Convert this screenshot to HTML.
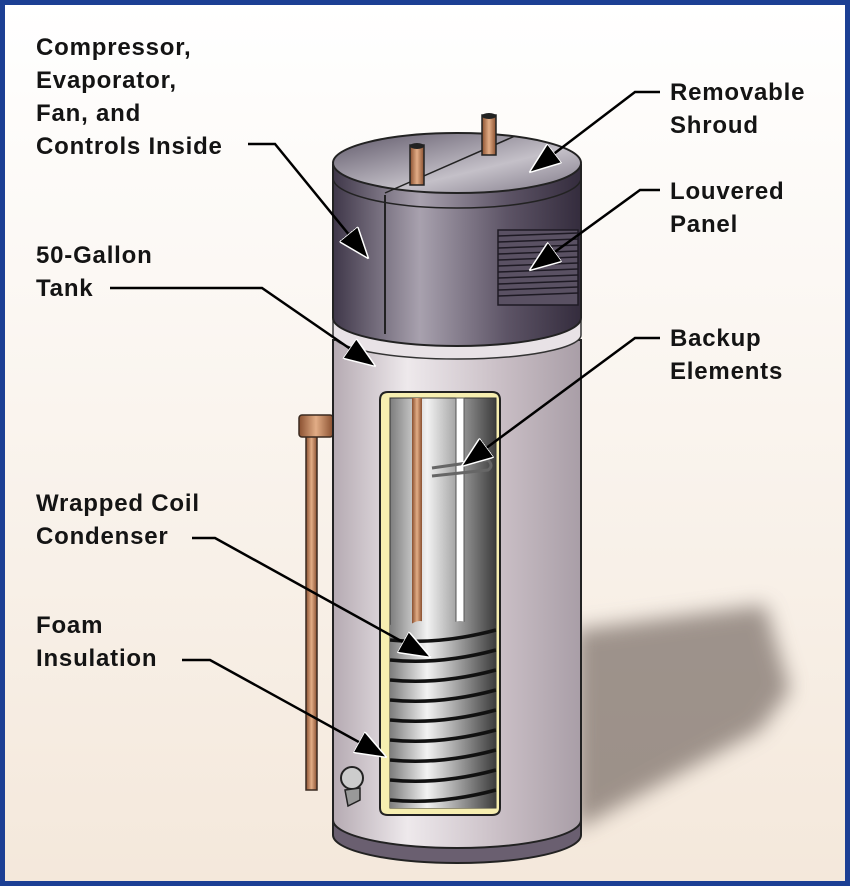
<!DOCTYPE html>
<html><head><meta charset="utf-8"><style>
html,body{margin:0;padding:0}
body{width:850px;height:886px;overflow:hidden}
svg{display:block}
text{font-family:"Liberation Sans",sans-serif;font-weight:bold;font-size:24px;letter-spacing:0.8px;fill:#141414}
</style></head><body>
<svg width="850" height="886" viewBox="0 0 850 886" xmlns="http://www.w3.org/2000/svg">
<defs>
<linearGradient id="bg" x1="0" y1="0" x2="0" y2="1"><stop offset="0" stop-color="#ffffff"/><stop offset="1" stop-color="#f4e8db"/></linearGradient>
<linearGradient id="shroud" x1="0" x2="1"><stop offset="0" stop-color="#3f3749"/><stop offset="0.35" stop-color="#a8a1ae"/><stop offset="0.7" stop-color="#5d5466"/><stop offset="1" stop-color="#342c3d"/></linearGradient>
<linearGradient id="top" x1="0" y1="0" x2="1" y2="1"><stop offset="0" stop-color="#5e5768"/><stop offset="0.6" stop-color="#c4c0c8"/><stop offset="1" stop-color="#7d7685"/></linearGradient>
<linearGradient id="body" x1="0" x2="1"><stop offset="0" stop-color="#b5aab2"/><stop offset="0.3" stop-color="#eee9ec"/><stop offset="0.7" stop-color="#c7bcc3"/><stop offset="1" stop-color="#a99ea7"/></linearGradient>
<linearGradient id="inner" x1="0" x2="1"><stop offset="0" stop-color="#7d7d7d"/><stop offset="0.35" stop-color="#f2f2f2"/><stop offset="1" stop-color="#3c3c3c"/></linearGradient>
<linearGradient id="cu" x1="0" x2="1"><stop offset="0" stop-color="#8a5030"/><stop offset="0.5" stop-color="#e2ad86"/><stop offset="1" stop-color="#8a5030"/></linearGradient>
<filter id="blur"><feGaussianBlur stdDeviation="10"/></filter>
<marker id="a2" markerWidth="32" markerHeight="24" refX="31" refY="12" orient="auto" markerUnits="userSpaceOnUse" viewBox="0 0 32 24"><path d="M0,0 L32,12 L0,24 Z" fill="#000" stroke="#fff" stroke-width="1.5"/></marker>
</defs>
<rect x="0" y="0" width="850" height="886" fill="#1c3f94"/>
<rect x="5" y="5" width="840" height="876" fill="url(#bg)"/>
<polygon points="575,630 765,605 790,690 760,730 575,830" fill="#6e625c" opacity="0.65" filter="url(#blur)"/>
<rect x="306" y="425" width="11" height="365" fill="url(#cu)" stroke="#3a2a20" stroke-width="1.5"/>
<rect x="299" y="415" width="34" height="22" rx="3" fill="url(#cu)" stroke="#3a2a20" stroke-width="1.5"/>
<path d="M333,340 L333,830 A124,28 0 0 0 581,830 L581,340 Z" fill="url(#body)" stroke="#222" stroke-width="2"/>
<path d="M333,820 L333,835 A124,28 0 0 0 581,835 L581,820 A124,28 0 0 1 333,820 Z" fill="#6a5f70" stroke="#222" stroke-width="2"/>
<path d="M333,320 L333,335 A124,24 0 0 0 581,335 L581,320 Z" fill="#e8e2e6" stroke="#333" stroke-width="1.5"/>
<path d="M333,165 L333,318 A124,28 0 0 0 581,318 L581,165 Z" fill="url(#shroud)" stroke="#222" stroke-width="2"/>
<line x1="385" y1="195" x2="385" y2="334" stroke="#222" stroke-width="2"/>
<path d="M333,178 A124,30 0 0 0 581,178" fill="none" stroke="#222" stroke-width="1.5"/>
<ellipse cx="457" cy="163" rx="124" ry="30" fill="url(#top)" stroke="#222" stroke-width="2"/>
<line x1="385" y1="193" x2="515" y2="136" stroke="#222" stroke-width="1.5"/>
<rect x="410" y="145" width="14" height="40" fill="url(#cu)" stroke="#222" stroke-width="1.5"/>
<ellipse cx="417" cy="146" rx="7" ry="3" fill="#222"/>
<rect x="482" y="115" width="14" height="40" fill="url(#cu)" stroke="#222" stroke-width="1.5"/>
<ellipse cx="489" cy="116" rx="7" ry="3" fill="#222"/>
<g stroke="#1e1a24" stroke-width="1.5">
<rect x="498" y="230" width="80" height="75" fill="#5a5163"/>
<line x1="498" y1="236" x2="578" y2="233"/><line x1="498" y1="242" x2="578" y2="239"/><line x1="498" y1="248" x2="578" y2="245"/><line x1="498" y1="254" x2="578" y2="251"/><line x1="498" y1="260" x2="578" y2="257"/><line x1="498" y1="266" x2="578" y2="263"/><line x1="498" y1="272" x2="578" y2="269"/><line x1="498" y1="278" x2="578" y2="275"/><line x1="498" y1="284" x2="578" y2="281"/><line x1="498" y1="290" x2="578" y2="287"/><line x1="498" y1="296" x2="578" y2="293"/>
</g>
<path d="M380,400 Q380,392 388,392 L492,392 Q500,392 500,400 L500,808 Q500,815 492,815 L388,815 Q380,815 380,808 Z" fill="#f6eeb0" stroke="#222" stroke-width="2"/>
<rect x="390" y="398" width="106" height="410" fill="url(#inner)" stroke="#333" stroke-width="1"/>
<rect x="412" y="398" width="10" height="230" fill="url(#cu)"/>
<rect x="456" y="398" width="8" height="230" fill="#fff" stroke="#555" stroke-width="1"/>
<path d="M432,468 L488,460 Q494,466 488,470 L432,476" fill="none" stroke="#666" stroke-width="3"/>
<path d="M390,625 q10,-8 20,0 q10,-8 20,0 q10,-8 20,0 q10,-8 20,0 q10,-8 26,0 L496,808 L390,808 Z" fill="url(#inner)"/>
<g stroke="#111" stroke-width="3.5" fill="none">
<path d="M390,640 Q440,645 496,630"/><path d="M390,660 Q440,665 496,650"/><path d="M390,680 Q440,685 496,670"/><path d="M390,700 Q440,705 496,690"/><path d="M390,720 Q440,725 496,710"/><path d="M390,740 Q440,745 496,730"/><path d="M390,760 Q440,765 496,750"/><path d="M390,780 Q440,785 496,770"/><path d="M390,800 Q440,805 496,790"/>
</g>
<circle cx="352" cy="778" r="11" fill="#ccc" stroke="#222" stroke-width="2"/>
<path d="M345,790 L360,788 L360,800 L348,806 Z" fill="#999" stroke="#222" stroke-width="1.5"/>
<text x="36" y="55">Compressor,</text>
<text x="36" y="88">Evaporator,</text>
<text x="36" y="121">Fan, and</text>
<text x="36" y="154">Controls Inside</text>
<text x="36" y="263">50-Gallon</text>
<text x="36" y="296">Tank</text>
<text x="36" y="511">Wrapped Coil</text>
<text x="36" y="544">Condenser</text>
<text x="36" y="633">Foam</text>
<text x="36" y="666">Insulation</text>
<text x="670" y="100">Removable</text>
<text x="670" y="133">Shroud</text>
<text x="670" y="199">Louvered</text>
<text x="670" y="232">Panel</text>
<text x="670" y="346">Backup</text>
<text x="670" y="379">Elements</text>
<g stroke="#000" stroke-width="2.5" fill="none" marker-end="url(#a2)">
<polyline points="248,144 275,144 368,258"/>
<polyline points="660,92 635,92 530,172"/>
<polyline points="660,190 640,190 530,270"/>
<polyline points="110,288 262,288 375,366"/>
<polyline points="660,338 635,338 462,466"/>
<polyline points="192,538 215,538 430,657"/>
<polyline points="182,660 210,660 386,757"/>
</g>
</svg>
</body></html>
